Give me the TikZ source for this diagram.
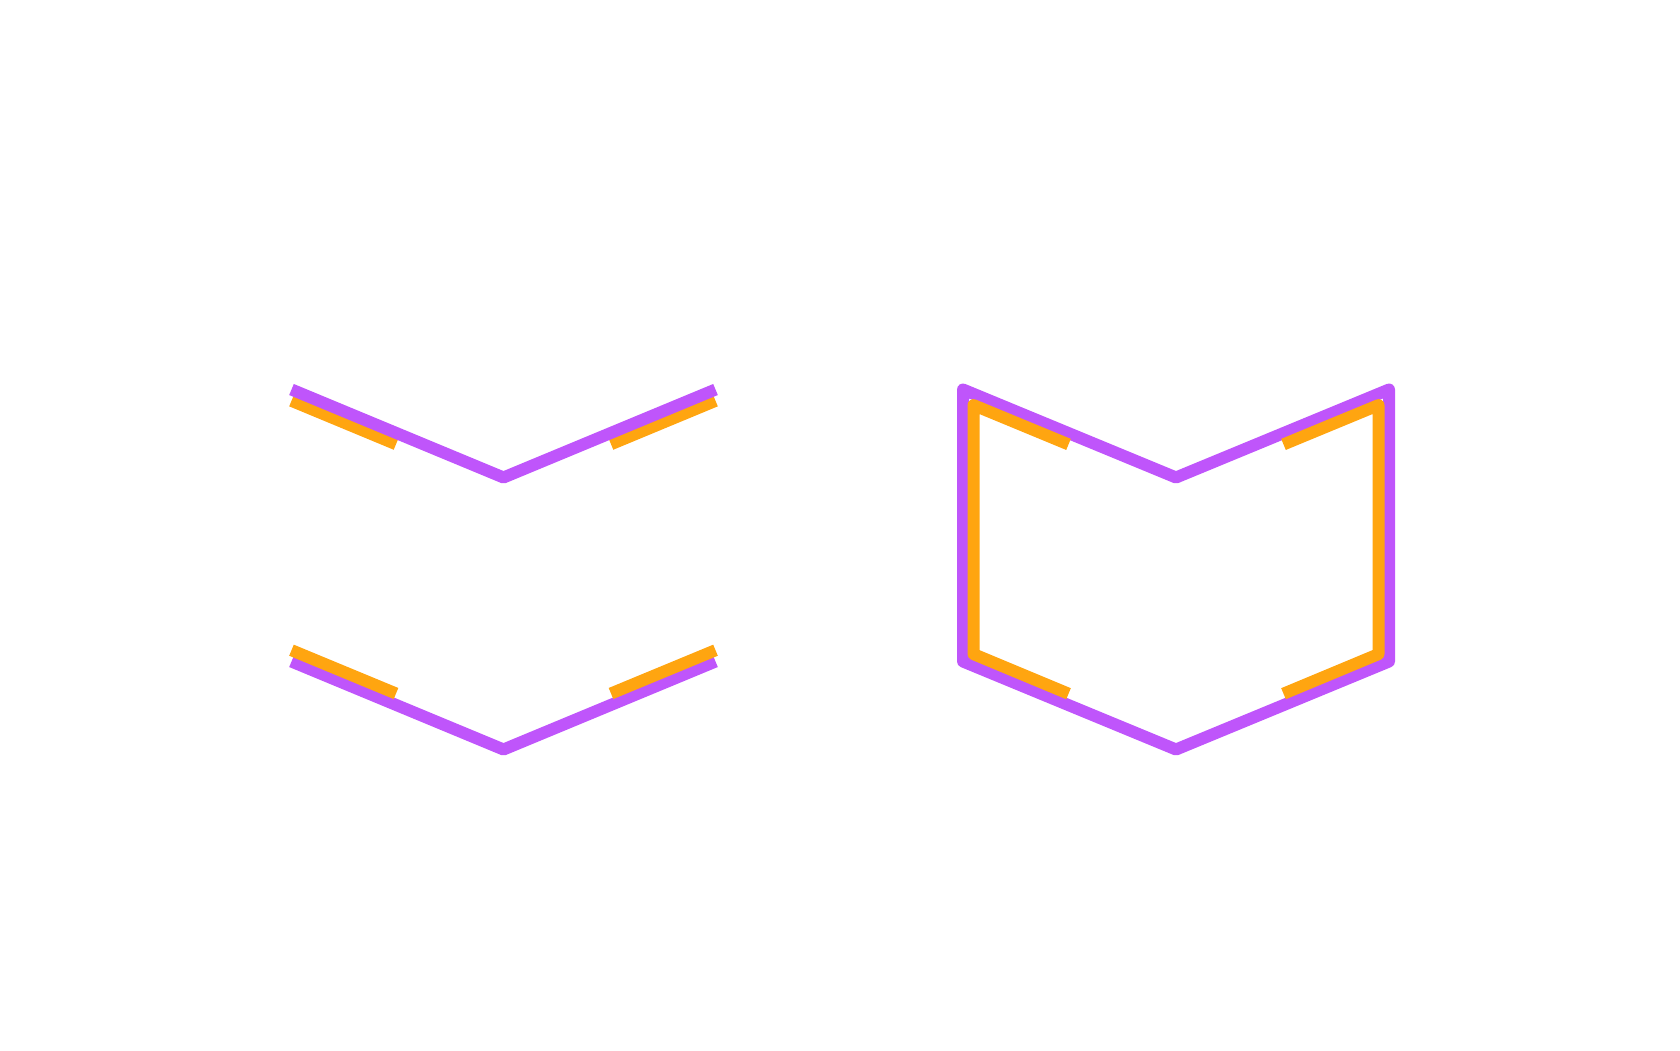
\documentclass[tikz,border=0pt]{standalone}
\usetikzlibrary{positioning}
\definecolor{strokepurple}{HTML}{BF55FB}
\definecolor{offsetorange}{HTML}{FFA510}
\begin{document}
\begin{tikzpicture}[x=1pt, y=-1pt,
		pathline/.style={draw=strokepurple, line width=12pt, line join=round},
		offsetline/.style={draw=offsetorange, line width=12pt, line join=round}]
				\useasboundingbox (0,0) rectangle (1680,1050);

				% Open chevrons
				\coordinate (otl) at (291.5,389.5);
				\coordinate (otv) at (503.5,477.5);
				\coordinate (otr) at (715.5,389.5);
				\coordinate (obl) at (291.5,661.5);
				\coordinate (obv) at (503.5,749.5);
				\coordinate (obr) at (715.5,661.5);

				% upper one: offset pieces below, chevron on top
				\draw[offsetline] (291.5,400.8) -- (396,444.2);
				\draw[offsetline] (611,444.2) -- (715.5,400.8);
				\draw[pathline] (otl) -- (otv) -- (otr);

				% lower one: chevron below, offset pieces on top
				\draw[pathline] (obl) -- (obv) -- (obr);
				\draw[offsetline] (291.5,650.2) -- (396,693.5);
				\draw[offsetline] (611,693.5) -- (715.5,650.2);

				% Closed outline
				\coordinate (ctl) at (963,389.5);
				\coordinate (ctv) at (1176,477.5);
				\coordinate (ctr) at (1389,389.5);
				\coordinate (cbr) at (1389,661.5);
				\coordinate (cbv) at (1176,749.5);
				\coordinate (cbl) at (963,661.5);
				\draw[pathline] (ctl) -- (ctv) -- (ctr) -- (cbr) -- (cbv) -- (cbl) -- cycle;

				% Offset pieces of the closed outline
				\draw[offsetline] (1068.5,444.4) -- (973.5,405.1) -- (973.5,654.1) -- (1068.5,693.7);
				\draw[offsetline] (1283.5,444.4) -- (1378.5,405.1) -- (1378.5,654.1) -- (1283.5,693.7);
			\end{tikzpicture}
\end{document}
